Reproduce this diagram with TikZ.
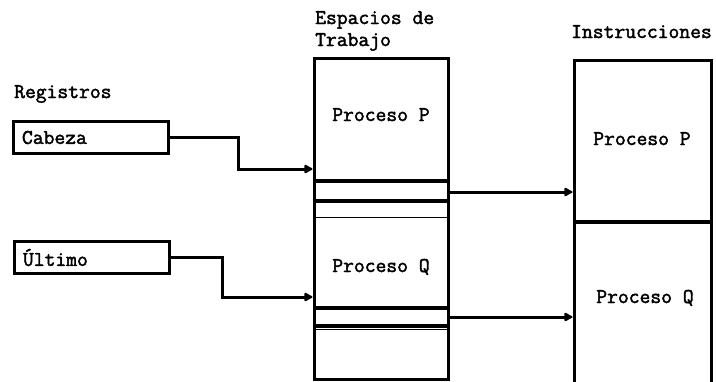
\documentclass[tikz,border=0pt]{standalone}
\usepackage{fontspec}
\newfontfamily\mytt{Latin Modern Mono}[FakeBold=2]
\usetikzlibrary{arrows.meta}
\begin{document}
\begin{tikzpicture}[x=1pt,y=-1pt,
  txt/.style={font=\mytt\fontsize{21}{25}\selectfont, inner sep=0pt},
  regbox/.style={draw, line width=3pt, minimum height=32pt, text width=137pt,
    inner xsep=9pt, inner ysep=0pt, align=left,
    font=\mytt\fontsize{21}{25}\selectfont},
  col/.style={draw, line width=3pt, inner sep=0pt},
  conn/.style={line width=3pt, -{Latex[length=10pt,width=11pt,round]}},
  sepline/.style={line width=3.2pt},
  finesep/.style={line width=1pt}
]
\useasboundingbox (0,0) rectangle (716,381);
\clip (0,0) rectangle (716,381);

% labels
\node[txt, anchor=base west] (reg) at (14,98) {Registros};
\node[txt, anchor=base west] (esp1) at (315,24) {Espacios de};
\node[txt, anchor=base west] (esp2) at (315,46) {Trabajo};
\node[txt, anchor=base west] (instr) at (571,38) {Instrucciones};

% registers
\node[regbox] (cabeza) at (90.5,137.5) {Cabeza};
\node[regbox] (ultimo) at (91.5,257.5) {Último};

% work space column
\node[col, minimum width=134pt, minimum height=321pt] (ws) at (381,218.5) {};
\draw[sepline] (ws.west |- 0,181) -- (ws.east |- 0,181);
\draw[sepline] (ws.west |- 0,201) -- (ws.east |- 0,201);
\draw[finesep] (ws.west |- 0,217) -- (ws.east |- 0,217);
\draw[sepline] (ws.west |- 0,308) -- (ws.east |- 0,308);
\draw[sepline] (ws.west |- 0,326) -- (ws.east |- 0,326);
\draw[finesep] (ws.west |- 0,329.5) -- (ws.east |- 0,329.5);
\node[txt, anchor=base] (wsp) at (381,121) {Proceso P};
\node[txt, anchor=base] (wsq) at (381,272) {Proceso Q};

% instructions column
\node[col, minimum width=137pt, minimum height=340pt] (ins) at (642.5,230) {};
\draw[sepline] (ins.west |- 0,222) -- (ins.east |- 0,222);
\node[txt, anchor=base] (inp) at (642,145) {Proceso P};
\node[txt, anchor=base] (inq) at (645,303) {Proceso Q};

% connectors
\coordinate (k1) at (238,169);
\draw[conn] (cabeza.east) -| (k1) -- (k1 -| ws.west);
\coordinate (k2) at (222,297);
\draw[conn] (ultimo.east) -| (k2) -- (k2 -| ws.west);
\coordinate (k3) at (448,192);
\draw[conn] (ws.east |- k3) -- (ins.west |- k3);
\coordinate (k4) at (448,317);
\draw[conn] (ws.east |- k4) -- (ins.west |- k4);
\end{tikzpicture}
\end{document}
